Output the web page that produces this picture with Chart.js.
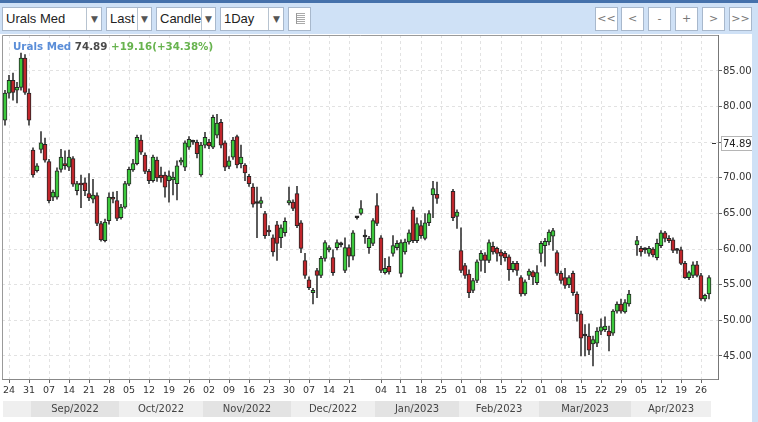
<!DOCTYPE html>
<html>
<head>
<meta charset="utf-8">
<title>Urals Med</title>
<script src="https://cdn.jsdelivr.net/npm/chart.js@4.4.1/dist/chart.umd.min.js"></script>
<style>
  body { margin: 0; width: 758px; height: 422px; overflow: hidden; background: #cfe1f6; position: relative; font-family: 'Liberation Sans', Arial, sans-serif; }
  .topline { position: absolute; left: 0; top: 0; width: 758px; height: 3px; background: #4571ab; }
  .box { position: absolute; top: 7px; height: 24px; box-sizing: border-box; background: #fff; border: 1px solid #a8b8cc; }
  .box .txt { position: absolute; left: 3px; top: 0; line-height: 22px; font-size: 13px; color: #222; }
  .box .sep { position: absolute; top: 0; bottom: 0; width: 1px; background: #b7c3d0; }
  .box .arr { position: absolute; top: 0; line-height: 22px; font-size: 9px; color: #555; font-family: 'DejaVu Sans', sans-serif; }
  .btn { text-align: center; line-height: 22px; font-size: 11px; color: #777; width: 23px; font-family: 'DejaVu Sans', sans-serif; }
  .icon { position: absolute; left: 7px; top: 5px; width: 8px; height: 11px; border-left: 1px solid #999;
          background: repeating-linear-gradient(to bottom, #aaa 0 1px, transparent 1px 2px); }
  #frame { position: absolute; left: 0; top: 34px; width: 758px; height: 388px; background: #fff; }
  #chart { position: absolute; left: 0; top: 0; }
  #strip { position: absolute; left: 752px; top: 34px; width: 6px; height: 388px; background: #cfe1f6; }
  #head { position: absolute; left: 13px; top: 40px; font: bold 10.3px 'DejaVu Sans', sans-serif; white-space: nowrap; }
</style>
</head>
<body>
<div class="topline"></div>

<!-- barre d'outils -->
<div class="box" style="left:2px;width:100px"><span class="txt">Urals Med</span><span class="sep" style="left:83px"></span><span class="arr" style="left:88px">▼</span></div>
<div class="box" style="left:106px;width:46px"><span class="txt">Last</span><span class="sep" style="left:30px"></span><span class="arr" style="left:34px">▼</span></div>
<div class="box" style="left:156px;width:60px"><span class="txt">Candle</span><span class="sep" style="left:44px"></span><span class="arr" style="left:48px">▼</span></div>
<div class="box" style="left:220px;width:64px"><span class="txt">1Day</span><span class="sep" style="left:47px"></span><span class="arr" style="left:52px">▼</span></div>
<div class="box" style="left:288px;width:23px"><span class="icon"></span></div>

<div class="box btn" style="left:595px">&lt;&lt;</div>
<div class="box btn" style="left:621px">&lt;</div>
<div class="box btn" style="left:648px">-</div>
<div class="box btn" style="left:675px">+</div>
<div class="box btn" style="left:702px">&gt;</div>
<div class="box btn" style="left:729px">&gt;&gt;</div>

<div id="frame"><canvas id="chart" width="758" height="388"></canvas></div>
<div id="strip"></div>
<div id="head"><span style="color:#5b8ed8">Urals Med</span> <span style="color:#4a4a4a">74.89</span> <span style="color:#67b34e">+19.16(+34.38%)</span></div>

<script>
// ==================== données ====================

// séances du 23/08/2022 au 28/04/2023 (jours fériés exclus)
const firstDay = '2022-08-23';
const lastDay = '2023-04-28';
const holidays = ['2022-12-26', '2023-01-02'];

// dates portant une étiquette sous l'axe
const tickDates = [
  '2022-08-24', '2022-08-31', '2022-09-07', '2022-09-14', '2022-09-21', '2022-09-28',
  '2022-10-05', '2022-10-12', '2022-10-19', '2022-10-26', '2022-11-02', '2022-11-09',
  '2022-11-16', '2022-11-23', '2022-11-30', '2022-12-07', '2022-12-14', '2022-12-21',
  '2023-01-04', '2023-01-11', '2023-01-18', '2023-01-25', '2023-02-01', '2023-02-08',
  '2023-02-15', '2023-02-22', '2023-03-01', '2023-03-08', '2023-03-15', '2023-03-22',
  '2023-03-29', '2023-04-05', '2023-04-12', '2023-04-19', '2023-04-26'
];
const monthNames = ['Jan', 'Feb', 'Mar', 'Apr', 'May', 'Jun', 'Jul', 'Aug', 'Sep', 'Oct', 'Nov', 'Dec'];
const yTicks = [45, 50, 55, 60, 65, 70, 75, 80, 85];
const lastPrice = 74.89;

const opens = [
  78.1, 81.9, 83.7, 82.3, 82.7, 86.8, 81.9, 73.9, 71.0, 74.0,
  74.7, 72.3, 67.3, 67.3, 71.2, 72.0, 71.5, 72.7, 68.2, 69.2,
  69.3, 67.8, 67.0, 67.5, 63.6, 61.2, 64.0, 67.2, 66.8, 64.4,
  65.9, 69.1, 71.1, 72.0, 75.3, 73.2, 70.9, 69.6, 72.5, 70.4,
  70.4, 69.6, 69.7, 69.2, 72.2, 71.5, 74.3, 75.0, 75.0, 70.4,
  74.6, 75.0, 74.3, 76.0, 77.8, 74.9, 71.6, 72.9, 75.8, 72.0,
  71.8, 70.2, 68.7, 66.4, 66.4, 65.0, 62.5, 61.6, 63.4, 61.6,
  62.3, 66.5, 66.6, 67.8, 63.7, 58.4, 55.7, 53.9, 57.0, 56.3,
  58.7, 59.9, 58.8, 60.2, 60.6, 57.0, 60.2, 59.0, 64.4, 65.0,
  61.7, 60.2, 60.8, 66.1, 61.6, 56.7, 57.6, 59.4, 60.2, 56.6,
  59.6, 61.0, 65.5, 61.2, 63.3, 61.5, 63.7, 67.6, 67.7, null,
  null, null, 68.1, 64.6, 59.8, 57.7, 56.5, 54.2, 55.6, 58.4,
  59.2, 58.4, 60.4, 60.1, 59.6, 59.4, 58.9, 57.1, 58.0, 56.0,
  53.7, 56.3, 56.8, 55.3, 59.4, 60.5, 61.0, 61.8, 59.5, 56.6,
  56.0, 55.0, 56.6, 53.7, 50.9, 47.8, 47.8, 46.7, 46.8, 48.5,
  48.7, 48.5, 48.2, 51.3, 52.3, 51.2, 52.3, null, 60.6, 60.1,
  59.9, 59.4, 60.0, 58.8, 60.5, 62.3, 61.5, 61.3, 59.8, 59.9,
  58.0, 56.0, 56.3, 57.8, 56.3, 53.0, 53.7
];
const highs = [
  82.3, 84.4, 84.7, 83.4, 87.5, 87.3, 82.5, 74.2, 72.0, 76.5,
  75.6, 72.6, 68.3, 71.4, 74.0, 73.8, 73.9, 73.0, 69.5, 70.4,
  70.0, 70.6, 69.8, 67.9, 63.9, 64.2, 67.9, 68.0, 68.1, 66.3,
  69.5, 71.5, 72.6, 76.0, 76.0, 73.5, 71.2, 73.2, 72.9, 71.5,
  70.8, 71.0, 70.8, 72.4, 72.8, 75.2, 75.8, 75.3, 75.3, 75.0,
  76.4, 75.4, 78.8, 78.9, 78.2, 75.2, 73.0, 75.7, 76.0, 74.6,
  72.0, 70.5, 69.2, 68.7, 67.3, 65.3, 63.3, 62.0, 63.9, 63.4,
  64.4, 68.7, 66.9, 68.8, 64.0, 59.4, 56.1, 54.5, 57.3, 59.0,
  61.2, 60.5, 59.9, 61.3, 61.0, 61.6, 60.6, 62.6, 64.6, 66.8,
  62.7, 61.8, 64.3, 67.8, 61.9, 58.7, 58.9, 61.9, 61.2, 61.3,
  61.4, 62.7, 65.9, 64.4, 64.0, 65.0, 65.4, 69.5, 69.4, null,
  null, null, 68.4, 65.5, 63.0, 58.0, 57.1, 55.9, 58.5, 59.8,
  59.5, 61.3, 61.0, 60.3, 59.9, 59.7, 59.2, 58.3, 58.3, 56.3,
  55.7, 57.2, 57.0, 57.7, 61.1, 61.5, 62.7, 62.9, 59.8, 56.9,
  57.3, 56.3, 56.9, 54.0, 51.3, 49.4, 49.5, 47.8, 49.0, 50.2,
  50.5, 49.2, 51.5, 52.6, 53.0, 52.9, 54.2, null, 61.8, 60.4,
  60.2, 60.4, 60.2, 61.4, 62.6, 62.5, 61.9, 61.6, 60.1, 60.3,
  58.3, 56.9, 58.2, 58.3, 56.6, 53.7, 56.3
];
const lows = [
  77.4, 81.2, 80.9, 80.5, 82.3, 81.7, 77.4, 70.1, 70.8, 73.5,
  72.2, 66.5, 66.8, 67.0, 70.8, 71.2, 71.0, 68.8, 67.6, 65.8,
  67.5, 66.8, 66.5, 63.3, 61.1, 61.0, 63.5, 66.5, 64.0, 64.2,
  65.7, 68.9, 70.9, 71.8, 73.3, 70.6, 69.2, 69.4, 69.5, 69.4,
  67.3, 66.6, 67.6, 66.9, 71.8, 71.0, 74.0, 74.7, 72.8, 70.2,
  74.2, 74.1, 74.1, 75.6, 74.2, 71.0, 71.3, 72.6, 71.4, 71.4,
  69.6, 68.8, 65.9, 61.6, 65.8, 61.5, 61.9, 59.0, 58.4, 60.2,
  61.8, 66.2, 65.4, 63.0, 59.5, 55.9, 54.3, 52.3, 53.2, 56.0,
  58.3, 59.6, 56.3, 59.9, 60.3, 56.7, 57.5, 58.5, 64.2, 64.8,
  60.8, 59.4, 60.5, 63.3, 56.7, 56.5, 56.5, 59.0, 59.9, 56.1,
  59.3, 60.7, 60.9, 60.9, 61.5, 61.3, 63.3, 64.4, 66.4, null,
  null, null, 64.0, 62.9, 56.7, 55.9, 53.2, 53.9, 55.3, 56.9,
  56.7, 58.1, 59.3, 58.3, 57.8, 58.3, 55.6, 56.8, 56.3, 53.4,
  53.5, 55.7, 55.0, 55.0, 58.2, 57.6, 60.6, 59.8, 56.3, 55.2,
  54.5, 54.6, 53.5, 49.9, 45.0, 45.0, 45.2, 43.6, 46.3, 48.0,
  48.4, 45.7, 47.9, 51.0, 51.0, 51.0, 52.0, null, 59.1, 59.0,
  59.4, 59.0, 58.9, 58.5, 60.2, 61.0, 60.9, 59.5, 59.4, 57.8,
  55.9, 55.7, 56.0, 56.1, 52.8, 52.7, 53.0
];
const closes = [
  81.9, 83.7, 82.0, 82.7, 86.8, 82.0, 78.1, 70.4, 71.7, 74.9,
  72.5, 66.8, 68.0, 71.0, 72.9, 71.7, 72.9, 69.1, 69.2, 69.0,
  68.2, 67.2, 67.6, 63.6, 61.3, 63.8, 67.3, 67.0, 64.3, 65.9,
  69.2, 71.2, 72.0, 75.7, 73.6, 70.9, 69.6, 72.9, 70.0, 70.0,
  68.7, 70.3, 70.1, 71.7, 72.5, 74.9, 75.4, 75.0, 73.4, 74.6,
  75.7, 74.5, 78.5, 77.7, 74.6, 71.5, 72.4, 75.3, 71.8, 72.9,
  70.7, 69.2, 66.3, 66.4, 66.8, 61.9, 62.4, 59.6, 60.8, 63.0,
  63.9, 66.8, 65.7, 63.3, 60.1, 56.3, 54.6, 54.2, 56.3, 58.7,
  60.9, 60.2, 56.7, 60.9, 60.6, 60.2, 59.0, 62.3, 64.4, 65.7,
  61.7, 61.5, 64.0, 63.6, 57.0, 57.3, 56.8, 60.5, 60.8, 60.9,
  61.0, 62.3, 61.2, 63.6, 61.9, 63.7, 65.0, 68.5, 67.1, null,
  null, null, 64.4, 65.2, 57.0, 56.3, 53.9, 55.6, 58.2, 59.4,
  58.4, 60.9, 59.6, 59.4, 59.0, 58.8, 57.1, 58.0, 57.0, 53.7,
  55.4, 56.9, 56.1, 56.7, 60.8, 61.1, 62.4, 62.6, 56.6, 55.6,
  54.9, 56.0, 53.9, 50.9, 47.5, 47.8, 45.8, 47.3, 48.5, 49.1,
  49.2, 47.8, 51.3, 52.3, 51.3, 52.5, 53.7, null, 61.2, 59.6,
  59.9, 60.1, 59.2, 60.8, 62.3, 61.5, 61.2, 59.8, 59.8, 58.0,
  56.0, 56.7, 57.8, 56.3, 53.0, 53.5, 56.0
];

// ==================== construction ====================

const UP = '#3cc83c';
const DOWN = '#c0262c';
const FLAT = '#222222';

/** Liste des jours ouvrés entre deux dates */
function tradingDays(from, to, skip) {
  const out = [];
  const d = new Date(from + 'T00:00:00Z');
  const end = new Date(to + 'T00:00:00Z');
  while (d <= end) {
    const s = d.toISOString().slice(0, 10);
    const wd = d.getUTCDay();
    if (wd !== 0 && wd !== 6 && !skip.includes(s)) out.push(s);
    d.setUTCDate(d.getUTCDate() + 1);
  }
  return out;
}

const dates = tradingDays(firstDay, lastDay, holidays);
const tickIdx = tickDates.map(d => dates.indexOf(d)).filter(i => i >= 0);

const wickData = [];
const bodyData = [];
const bodyColors = [];
opens.forEach((o, i) => {
  if (o === null) return;
  const c = closes[i];
  wickData.push({ x: i, y: [lows[i], highs[i]] });
  bodyData.push({ x: i, y: [o, c] });
  bodyColors.push(c > o ? UP : c < o ? DOWN : FLAT);
});

/** supprime les marges que Chart.js réserve pour les étiquettes extrêmes */
function noPadding(s) {
  s.paddingTop = 0;
  s.paddingBottom = 0;
  s.paddingLeft = 0;
  s.paddingRight = 0;
}

// bandes des mois + cadre + étiquette du dernier cours
const extras = {
  id: 'extras',
  afterDraw(chart) {
    const { ctx, chartArea: area, scales: { x, y } } = chart;
    ctx.save();

    // bord gauche et haut du graphique
    ctx.strokeStyle = '#9a9a9a';
    ctx.lineWidth = 1;
    ctx.beginPath();
    ctx.moveTo(area.left + 0.5, area.bottom);
    ctx.lineTo(area.left + 0.5, area.top + 0.5);
    ctx.lineTo(area.right, area.top + 0.5);
    ctx.stroke();

    // bandes des mois
    const starts = [];
    dates.forEach((d, i) => {
      if (i === 0 || d.slice(0, 7) !== dates[i - 1].slice(0, 7)) starts.push(i);
    });
    const top = area.bottom + 22;
    const h = 16;
    ctx.font = '10px "DejaVu Sans", sans-serif';
    ctx.textAlign = 'center';
    ctx.textBaseline = 'middle';
    starts.forEach((s, k) => {
      const e = k + 1 < starts.length ? starts[k + 1] : dates.length;
      const x0 = Math.max(0, Math.round(x.getPixelForValue(s - 0.5)));
      const x1 = Math.round(x.getPixelForValue(e - 0.5));
      ctx.fillStyle = k % 2 ? '#e3e3e3' : '#efefef';
      ctx.fillRect(x0, top, x1 - x0, h);
      if (x1 - x0 > 55) {
        const d = dates[s];
        ctx.fillStyle = '#444';
        ctx.fillText(monthNames[+d.slice(5, 7) - 1] + '/' + d.slice(0, 4), (x0 + x1) / 2, top + h / 2 + 0.5);
      }
    });

    // repère du dernier cours
    const py = Math.round(y.getPixelForValue(lastPrice)) + 0.5;
    ctx.strokeStyle = '#333';
    ctx.beginPath();
    ctx.moveTo(area.right - 6, py);
    ctx.lineTo(area.right - 2, py);
    ctx.stroke();
    ctx.fillStyle = '#fff';
    ctx.strokeStyle = '#b5b5b5';
    ctx.fillRect(area.right + 3, py - 7, 31, 14);
    ctx.strokeRect(area.right + 3.5, py - 7, 31, 14);
    ctx.fillStyle = '#222';
    ctx.textAlign = 'left';
    ctx.fillText(lastPrice.toFixed(2), area.right + 5, py + 0.5);
    ctx.restore();
  }
};

new Chart(document.getElementById('chart'), {
  type: 'bar',
  data: {
    datasets: [
      {
        data: wickData,
        backgroundColor: '#3a3a3a',
        barThickness: 1,
        grouped: false,
        order: 2
      },
      {
        data: bodyData,
        backgroundColor: bodyColors,
        borderColor: '#262626',
        borderWidth: 1,
        borderSkipped: false,
        barThickness: 4,
        minBarLength: 2,
        grouped: false,
        order: 1
      }
    ]
  },
  options: {
    responsive: false,
    animation: false,
    layout: { padding: { left: 2, top: 1, right: 0, bottom: 0 } },
    plugins: { legend: { display: false }, tooltip: { enabled: false } },
    scales: {
      x: {
        type: 'linear',
        min: -0.75,
        max: 178.25,
        offset: false,
        grid: { offset: false, color: '#e2e2e2', tickColor: '#666', tickLength: 4 },
        border: { color: '#888', dash: [3, 3] },
        afterBuildTicks: s => { s.ticks = tickIdx.map(v => ({ value: v })); },
        afterFit: s => { s.height = 43; noPadding(s); },
        ticks: {
          autoSkip: false,
          maxRotation: 0,
          padding: 2,
          color: '#333',
          font: { family: 'DejaVu Sans', size: 9.5 },
          callback: v => (dates[v] ? dates[v].slice(8) : '')
        }
      },
      y: {
        position: 'right',
        min: 41.77,
        max: 90.05,
        grid: { color: '#e2e2e2', tickColor: '#666', tickLength: 4 },
        border: { color: '#777', dash: [3, 3] },
        afterBuildTicks: s => { s.ticks = yTicks.map(v => ({ value: v })); },
        afterFit: s => { s.width = 40; noPadding(s); },
        ticks: {
          padding: 1,
          color: '#333',
          font: { family: 'DejaVu Sans', size: 10 },
          callback: v => v.toFixed(2)
        }
      }
    }
  },
  plugins: [extras]
});
</script>
</body>
</html>
